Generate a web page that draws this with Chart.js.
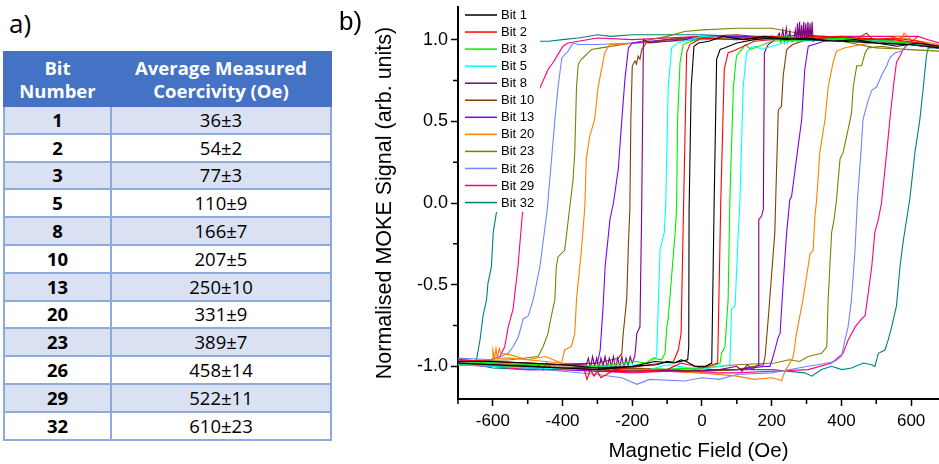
<!DOCTYPE html>
<html>
<head>
  <meta charset="UTF-8">
  <title>Bit coercivity and MOKE loops</title>
  <script src="https://cdn.jsdelivr.net/npm/chart.js"></script>
  <style>
    body {
      margin: 0;
      width: 939px;
      height: 464px;
      background: #fff;
      position: relative;
      overflow: hidden;
    }
    #labA {
      position: absolute;
      left: 9px;
      top: 5px;
      font: 26px 'Open Sans', sans-serif;
      color: #000;
    }
    #labB {
      position: absolute;
      left: 339px;
      top: 6px;
      font: 26px 'Liberation Sans', Arial, sans-serif;
      color: #000;
      z-index: 2;
    }
    #tbl {
      position: absolute;
      left: 3px;
      top: 51px;
      width: 327px;
      border-collapse: collapse;
      font-family: 'Open Sans', sans-serif;
      table-layout: fixed;
    }
    #tbl th {
      background: #4472C4;
      color: #fff;
      font-size: 18.5px;
      font-weight: bold;
      line-height: 23px;
      height: 52px;
      padding: 0;
      border: 2px solid #4472C4;
    }
    #tbl td {
      border: 2px solid #8EA9DB;
      height: 25.8px;
      padding: 0;
      text-align: center;
      font-size: 18.5px;
      line-height: 20px;
      color: #000;
    }
    #tbl td.num { font-weight: bold; }
    #tbl tr.shade td { background: #D9E1F2; }
    #chartBox {
      position: absolute;
      left: 340px;
      top: 0;
      width: 599px;
      height: 464px;
    }
  </style>
</head>
<body>
  <div id="labA">a)</div>
  <table id="tbl">
    <colgroup><col style="width:107px"><col style="width:220px"></colgroup>
    <thead>
      <tr><th>Bit<br>Number</th><th>Average Measured<br>Coercivity (Oe)</th></tr>
    </thead>
    <tbody></tbody>
  </table>
  <div id="labB">b)</div>
  <div id="chartBox"><canvas id="chart"></canvas></div>

  <script>
    // table values
    const bits = [1, 2, 3, 5, 8, 10, 13, 20, 23, 26, 29, 32];
    const coercivity = [36, 54, 77, 110, 166, 207, 250, 331, 389, 458, 522, 610];
    const coercivityErr = [3, 2, 3, 9, 7, 5, 10, 9, 7, 14, 11, 23];

    // axis ticks
    const fieldTicks = [-600, -400, -200, 0, 200, 400, 600];
    const signalTicks = [-1.0, -0.5, 0.0, 0.5, 1.0];

    // loops: [field (Oe), signal]; "Down" = sweep from + to -, "Up" = back
    const bit1Down = [[680,0.96],[620,0.98],[560,0.96],[500,0.98],[440,1.0],[380,0.99],[300,1.01],[240,1.0],[180,1.02],[120,1.0],[60,1.02],[20,0.99],[-10,0.98],[-23,0.96],[-31,0.71],[-37,-0.04],[-38,-0.88],[-41,-0.96],[-80,-0.98],[-135,-0.97],[-200,-1.0],[-300,-1.01],[-400,-0.99],[-500,-0.98],[-600,-0.97],[-700,-0.97]];
    const bit1Up = [[-700,-0.98],[-600,-0.99],[-500,-1.0],[-400,-1.01],[-300,-1.02],[-200,-1.0],[-130,-0.99],[-100,-0.97],[-80,-0.98],[-60,-0.96],[-45,-0.97],[-20,-1.0],[10,-1.0],[28,-0.98],[35,0.02],[42,0.88],[52,0.94],[66,0.95],[100,0.98],[150,1.0],[200,1.01],[300,1.0],[400,0.99],[500,0.98],[600,0.97],[680,0.95]];

    const bit2Down = [[680,0.95],[620,0.99],[550,1.01],[480,1.0],[400,1.02],[300,1.0],[200,1.02],[100,1.0],[0,1.01],[-35,0.97],[-44,0.92],[-46,0.71],[-53,-0.04],[-60,-0.8],[-68,-0.9],[-82,-0.97],[-150,-0.99],[-250,-1.02],[-290,-1.07],[-300,-1.03],[-310,-1.06],[-320,-1.02],[-330,-1.08],[-340,-1.0],[-400,-0.99],[-500,-0.98],[-600,-0.97],[-700,-0.96]];
    const bit2Up = [[-700,-0.98],[-600,-0.99],[-500,-1.0],[-400,-1.01],[-300,-1.02],[-200,-1.03],[-100,-1.02],[-60,-0.98],[0,-1.01],[30,-0.99],[45,-0.98],[54,0.02],[64,0.82],[75,0.92],[90,0.93],[150,0.99],[250,1.01],[350,1.02],[450,1.01],[550,1.0],[620,0.98],[680,0.95]];

    const bit3Down = [[680,0.96],[600,0.98],[500,0.99],[400,1.0],[300,1.01],[200,1.02],[100,1.0],[0,1.01],[-45,0.98],[-54,0.97],[-63,0.86],[-70,0.51],[-73,-0.04],[-77,-0.18],[-97,-0.71],[-101,-0.76],[-106,-0.92],[-116,-0.96],[-140,-0.95],[-160,-0.98],[-192,-0.97],[-300,-1.0],[-450,-0.99],[-600,-0.98],[-700,-0.97]];
    const bit3Up = [[-700,-0.99],[-500,-1.0],[-300,-1.02],[-150,-1.02],[0,-1.01],[40,-0.99],[52,-0.98],[56,-0.92],[66,-0.88],[75,-0.59],[80,0.02],[90,0.71],[99,0.9],[114,0.94],[125,0.97],[140,0.94],[200,0.99],[300,1.0],[450,1.01],[600,0.98],[680,0.96]];

    const bit5Down = [[680,0.95],[580,0.98],[500,0.99],[400,1.0],[300,1.01],[150,1.0],[0,1.02],[-70,0.98],[-87,0.95],[-97,0.71],[-104,0.0],[-108,-0.18],[-120,-0.28],[-125,-0.59],[-130,-0.94],[-150,-0.98],[-190,-0.99],[-300,-1.0],[-450,-0.99],[-600,-0.98],[-700,-0.97]];
    const bit5Up = [[-700,-0.99],[-500,-1.01],[-300,-1.02],[-150,-1.02],[-100,-0.99],[0,-1.02],[50,-1.0],[80,-0.99],[85,-0.65],[95,-0.63],[104,-0.18],[109,0.02],[118,0.71],[128,0.92],[140,0.95],[155,0.96],[170,0.94],[250,0.99],[400,1.0],[550,0.99],[680,0.95]];

    const bit8Down = [[680,0.95],[580,0.98],[500,0.99],[400,1.0],[300,1.01],[200,1.0],[100,1.01],[0,1.01],[-100,0.99],[-150,0.98],[-168,1.0],[-173,-0.04],[-178,-0.76],[-183,-0.78],[-187,-0.8],[-190,-0.88],[-193,-0.94],[-200,-0.98],[-206,-0.94],[-212,-1.0],[-218,-0.95],[-224,-1.01],[-230,-0.94],[-236,-1.0],[-242,-0.95],[-248,-1.02],[-254,-0.94],[-260,-1.0],[-266,-0.95],[-272,-1.01],[-278,-0.94],[-284,-1.0],[-290,-0.95],[-296,-1.02],[-302,-0.95],[-308,-1.0],[-314,-0.94],[-320,-1.01],[-326,-0.95],[-332,-0.99],[-400,-0.99],[-500,-0.98],[-600,-0.97],[-700,-0.96]];
    const bit8Up = [[-700,-0.98],[-600,-1.0],[-470,-0.99],[-455,-1.02],[-445,-0.98],[-433,-1.01],[-350,-1.01],[-250,-1.03],[-150,-1.02],[-50,-1.03],[50,-1.02],[100,-1.0],[115,-1.03],[130,-0.99],[145,-1.02],[161,-0.99],[163,-0.1],[171,-0.08],[176,-0.04],[179,0.92],[190,0.97],[210,1.0],[222,1.04],[226,0.99],[232,1.06],[236,0.99],[242,1.07],[246,0.99],[252,1.05],[256,0.99],[262,0.99],[268,1.06],[271,0.99],[274,1.1],[277,0.99],[280,1.11],[283,0.99],[286,1.09],[289,0.99],[292,1.11],[295,0.99],[298,1.1],[301,0.99],[304,1.11],[307,0.99],[310,1.1],[313,0.99],[316,1.11],[319,0.99],[330,1.0],[400,1.0],[500,0.98],[600,0.97],[680,0.95]];

    const bit10Down = [[680,0.95],[600,0.97],[500,0.98],[472,1.04],[440,1.0],[350,1.02],[280,1.03],[200,1.01],[100,1.03],[0,1.02],[-100,1.0],[-160,0.98],[-173,0.94],[-178,0.88],[-183,0.9],[-188,0.85],[-192,0.87],[-200,0.84],[-204,0.51],[-207,-0.04],[-211,-0.25],[-216,-0.59],[-226,-0.8],[-230,-0.92],[-240,-0.95],[-300,-0.98],[-450,-0.99],[-600,-0.98],[-700,-0.97]];
    const bit10Up = [[-700,-0.98],[-500,-1.0],[-300,-1.01],[-100,-1.02],[0,-1.03],[100,-1.02],[150,-1.0],[176,-0.99],[181,-0.94],[190,-0.71],[200,-0.43],[209,-0.18],[212,0.06],[219,0.57],[228,0.59],[233,0.78],[243,0.94],[260,0.97],[300,1.0],[400,1.01],[550,0.99],[680,0.96]];

    const bit13Down = [[680,0.95],[500,0.99],[300,1.01],[100,1.02],[-100,1.0],[-200,0.98],[-211,0.95],[-221,0.76],[-230,0.51],[-240,0.21],[-254,0.0],[-264,-0.1],[-273,-0.29],[-278,-0.39],[-283,-0.61],[-292,-0.9],[-300,-0.98],[-400,-0.99],[-550,-0.98],[-700,-0.97]];
    const bit13Up = [[-700,-0.99],[-500,-1.01],[-300,-1.03],[-100,-1.03],[0,-1.02],[100,-1.02],[180,-1.0],[195,-1.0],[204,-0.94],[219,-0.82],[224,-0.8],[233,-0.49],[243,-0.18],[252,0.02],[257,0.04],[276,0.35],[286,0.51],[295,0.82],[305,0.96],[350,0.99],[500,1.0],[680,0.96]];

    const bit20Down = [[680,0.96],[600,1.0],[580,1.04],[570,1.0],[500,1.0],[300,1.01],[100,1.02],[-100,0.99],[-250,0.97],[-265,0.97],[-279,0.92],[-298,0.71],[-308,0.51],[-322,0.41],[-332,0.27],[-336,-0.02],[-346,-0.29],[-360,-0.59],[-365,-0.8],[-375,-0.88],[-394,-0.9],[-403,-0.98],[-450,-0.94],[-500,-0.96],[-550,-0.93],[-577,-0.92],[-582,-0.89],[-587,-0.95],[-591,-0.89],[-595,-0.95],[-600,-0.9]];
    const bit20Up = [[-600,-0.95],[-550,-0.95],[-450,-0.97],[-350,-0.99],[-250,-1.02],[-100,-1.03],[0,-1.04],[100,-1.06],[150,-1.08],[200,-1.07],[220,-1.08],[228,-1.09],[240,-1.02],[247,-1.0],[262,-0.94],[271,-0.8],[281,-0.69],[290,-0.59],[300,-0.45],[310,-0.31],[319,-0.29],[324,-0.08],[329,0.02],[338,0.31],[353,0.51],[362,0.71],[376,0.86],[386,0.93],[410,0.95],[458,0.97],[520,0.99],[560,1.02],[600,1.0],[680,0.97]];

    const bit23Down = [[680,0.93],[600,0.94],[500,0.95],[400,0.99],[300,1.03],[200,1.07],[100,1.07],[0,1.06],[-50,1.05],[-100,1.02],[-200,0.98],[-289,0.95],[-317,0.94],[-336,0.9],[-346,0.88],[-355,0.85],[-360,0.71],[-365,0.31],[-370,0.14],[-379,-0.02],[-394,-0.29],[-413,-0.33],[-418,-0.39],[-422,-0.59],[-432,-0.69],[-442,-0.8],[-456,-0.88],[-470,-0.94],[-550,-0.96],[-700,-0.97]];
    const bit23Up = [[-700,-0.98],[-500,-0.99],[-300,-1.0],[-100,-1.02],[0,-1.01],[100,-0.99],[209,-0.98],[250,-0.96],[280,-0.97],[305,-0.94],[343,-0.92],[358,-0.88],[362,-0.59],[372,-0.18],[379,-0.1],[386,0.02],[396,0.27],[405,0.31],[415,0.41],[429,0.55],[434,0.71],[444,0.84],[458,0.84],[468,0.92],[477,0.95],[515,0.96],[580,0.94],[680,0.93]];

    const bit26Down = [[680,0.96],[600,0.97],[500,0.98],[400,1.0],[200,1.01],[0,1.0],[-200,0.98],[-300,0.97],[-355,0.97],[-370,0.98],[-384,0.93],[-402,0.89],[-413,0.71],[-422,0.51],[-444,-0.04],[-465,-0.39],[-484,-0.59],[-498,-0.69],[-513,-0.71],[-527,-0.82],[-542,-0.88],[-556,-0.92],[-600,-0.96],[-700,-0.95]];
    const bit26Up = [[-700,-0.97],[-600,-1.0],[-500,-1.01],[-400,-1.03],[-300,-1.05],[-230,-1.07],[-187,-1.11],[-150,-1.08],[-50,-1.09],[0,-1.07],[50,-1.08],[100,-1.05],[200,-1.04],[305,-1.0],[333,-0.99],[381,-0.97],[400,-0.94],[410,-0.84],[419,-0.76],[429,-0.59],[439,-0.29],[446,0.02],[456,0.31],[462,0.51],[477,0.63],[487,0.69],[501,0.71],[515,0.78],[530,0.84],[539,0.89],[554,0.92],[573,0.93],[587,0.97],[680,0.97]];

    const bit29Down = [[680,0.98],[649,1.0],[620,1.02],[550,1.02],[400,1.02],[200,1.01],[0,1.02],[-200,1.0],[-300,1.01],[-384,0.98],[-399,0.96],[-413,0.91],[-427,0.86],[-441,0.82],[-470,0.68],[-515,-0.06],[-528,-0.39],[-542,-0.65],[-556,-0.76],[-566,-0.88],[-580,-0.94],[-620,-0.97],[-700,-0.96]];
    const bit29Up = [[-700,-0.99],[-600,-1.0],[-500,-1.02],[-400,-1.02],[-300,-1.03],[-200,-1.04],[-100,-1.03],[0,-1.04],[100,-1.04],[200,-1.03],[305,-1.02],[372,-0.98],[405,-0.92],[419,-0.84],[439,-0.76],[458,-0.71],[468,-0.69],[477,-0.55],[487,-0.39],[496,-0.18],[506,-0.1],[515,0.0],[530,0.31],[539,0.51],[549,0.71],[558,0.86],[568,0.9],[577,0.94],[591,0.97],[620,1.02],[649,1.0],[680,0.98]];

    const bit32Down = [[680,0.95],[600,0.98],[500,1.0],[400,1.0],[300,1.01],[200,1.02],[100,1.02],[0,1.03],[-100,1.03],[-200,1.03],[-262,1.02],[-300,1.03],[-355,1.01],[-400,1.0],[-440,0.99],[-467,0.99],[-590,-0.06],[-599,-0.18],[-604,-0.39],[-614,-0.49],[-618,-0.59],[-628,-0.69],[-637,-0.84],[-647,-0.96],[-670,-0.99],[-700,-0.98]];
    const bit32Up = [[-700,-0.97],[-650,-0.99],[-600,-1.01],[-500,-1.02],[-400,-1.02],[-300,-1.0],[-200,-1.01],[-100,-1.03],[0,-1.03],[100,-1.02],[200,-1.02],[295,-1.04],[315,-1.06],[343,-1.02],[372,-1.0],[401,-1.02],[429,-1.01],[463,-0.98],[487,-0.99],[496,-1.0],[506,-0.92],[525,-0.9],[534,-0.84],[544,-0.76],[558,-0.63],[568,-0.39],[577,-0.24],[587,-0.1],[596,0.02],[611,0.31],[625,0.51],[635,0.71],[644,0.9],[649,0.95],[680,0.95]];

    const loops = [
      [bit1Down, bit1Up], [bit2Down, bit2Up], [bit3Down, bit3Up], [bit5Down, bit5Up],
      [bit8Down, bit8Up], [bit10Down, bit10Up], [bit13Down, bit13Up], [bit20Down, bit20Up],
      [bit23Down, bit23Up], [bit26Down, bit26Up], [bit29Down, bit29Up], [bit32Down, bit32Up]
    ];
    const lineColors = ['#000000', '#FF0000', '#00EE00', '#00FFFF', '#800080', '#804000',
                        '#8000FF', '#FF8000', '#808000', '#6F86FF', '#FF0080', '#008080'];

    // --- table ---
    const tbody = document.querySelector('#tbl tbody');
    bits.forEach((b, i) => {
      const tr = document.createElement('tr');
      if (i % 2 === 0) tr.className = 'shade';
      tr.innerHTML = '<td class="num">' + b + '</td><td>' + coercivity[i] + '±' + coercivityErr[i] + '</td>';
      tbody.appendChild(tr);
    });

    // --- chart ---
    const FONT = "'Liberation Sans', Arial, sans-serif";

    const datasets = loops.map((lp, i) => ({
      label: 'Bit ' + bits[i],
      data: lp[0].concat(lp[1]).map(p => ({x: p[0], y: p[1]})),
      borderColor: lineColors[i],
      backgroundColor: lineColors[i],
      showLine: true,
      fill: false
    }));

    // legend sits inside the plot on a white box that hides the lines under it
    const boxLegend = {
      id: 'boxLegend',
      afterDatasetsDraw(chart) {
        const {ctx, chartArea} = chart;
        const x0 = chartArea.left + 1, y0 = chartArea.top;
        ctx.save();
        ctx.fillStyle = '#fff';
        ctx.fillRect(x0, y0, 81, 205);
        ctx.font = '13px ' + FONT;
        ctx.textBaseline = 'middle';
        chart.data.datasets.forEach((ds, i) => {
          const yy = y0 + 8 + i * 17.05;
          ctx.strokeStyle = ds.borderColor;
          ctx.lineWidth = 1.5;
          ctx.beginPath();
          ctx.moveTo(x0 + 6, yy);
          ctx.lineTo(x0 + 38, yy);
          ctx.stroke();
          ctx.fillStyle = '#000';
          ctx.fillText(ds.label, x0 + 42, yy + 0.5);
        });
        ctx.restore();
      }
    };

    // short minor ticks half way between the labelled ones
    const minorTicks = {
      id: 'minorTicks',
      afterDraw(chart) {
        const {ctx, scales} = chart;
        const sx = scales.x, sy = scales.y;
        ctx.save();
        ctx.strokeStyle = '#000';
        ctx.lineWidth = 1.5;
        ctx.beginPath();
        for (let v = -700; v <= 680; v += 200) {
          const px = sx.getPixelForValue(v);
          ctx.moveTo(px, sx.top);
          ctx.lineTo(px, sx.top + 5);
        }
        for (let v = -0.75; v <= 1; v += 0.5) {
          const py = sy.getPixelForValue(v);
          ctx.moveTo(sy.right, py);
          ctx.lineTo(sy.right - 5, py);
        }
        ctx.stroke();
        ctx.restore();
      }
    };

    new Chart(document.getElementById('chart'), {
      type: 'scatter',
      data: { datasets: datasets },
      options: {
        responsive: true,
        maintainAspectRatio: false,
        animation: false,
        layout: { padding: { top: 7, right: 0, bottom: 0, left: 0 } },
        elements: {
          point: { radius: 0, hoverRadius: 0 },
          line: { borderWidth: 1.1, tension: 0 }
        },
        plugins: {
          legend: { display: false },
          tooltip: { enabled: false }
        },
        scales: {
          x: {
            type: 'linear',
            min: -700,
            max: 680,
            border: { display: true, color: '#000', width: 2 },
            grid: { drawOnChartArea: false, drawTicks: true, tickLength: 7, tickWidth: 1.5, tickColor: '#000' },
            ticks: { color: '#000', maxRotation: 0, padding: 5, font: { family: FONT, size: 17 } },
            afterBuildTicks(s) { s.ticks = fieldTicks.map(v => ({value: v})); },
            title: { display: true, text: 'Magnetic Field (Oe)', color: '#000', padding: 0,
                     font: { family: FONT, size: 20.5 } },
            afterFit(s) { s.height = 65; s.paddingLeft = 0; s.paddingRight = 0; }
          },
          y: {
            type: 'linear',
            min: -1.2,
            max: 1.2,
            border: { display: true, color: '#000', width: 2 },
            grid: { drawOnChartArea: false, drawTicks: true, tickLength: 7, tickWidth: 1.5, tickColor: '#000' },
            ticks: { color: '#000', padding: 3, font: { family: FONT, size: 18 },
                     callback: v => Number(v).toFixed(1) },
            afterBuildTicks(s) { s.ticks = signalTicks.map(v => ({value: v})); },
            title: { display: true, text: 'Normalised MOKE Signal (arb. units)', color: '#000',
                     padding: { top: 32, bottom: 0 }, font: { family: FONT, size: 21.5 } },
            afterFit(s) { s.width = 118; s.paddingTop = 0; s.paddingBottom = 0; }
          }
        }
      },
      plugins: [boxLegend, minorTicks]
    });
  </script>
</body>
</html>
